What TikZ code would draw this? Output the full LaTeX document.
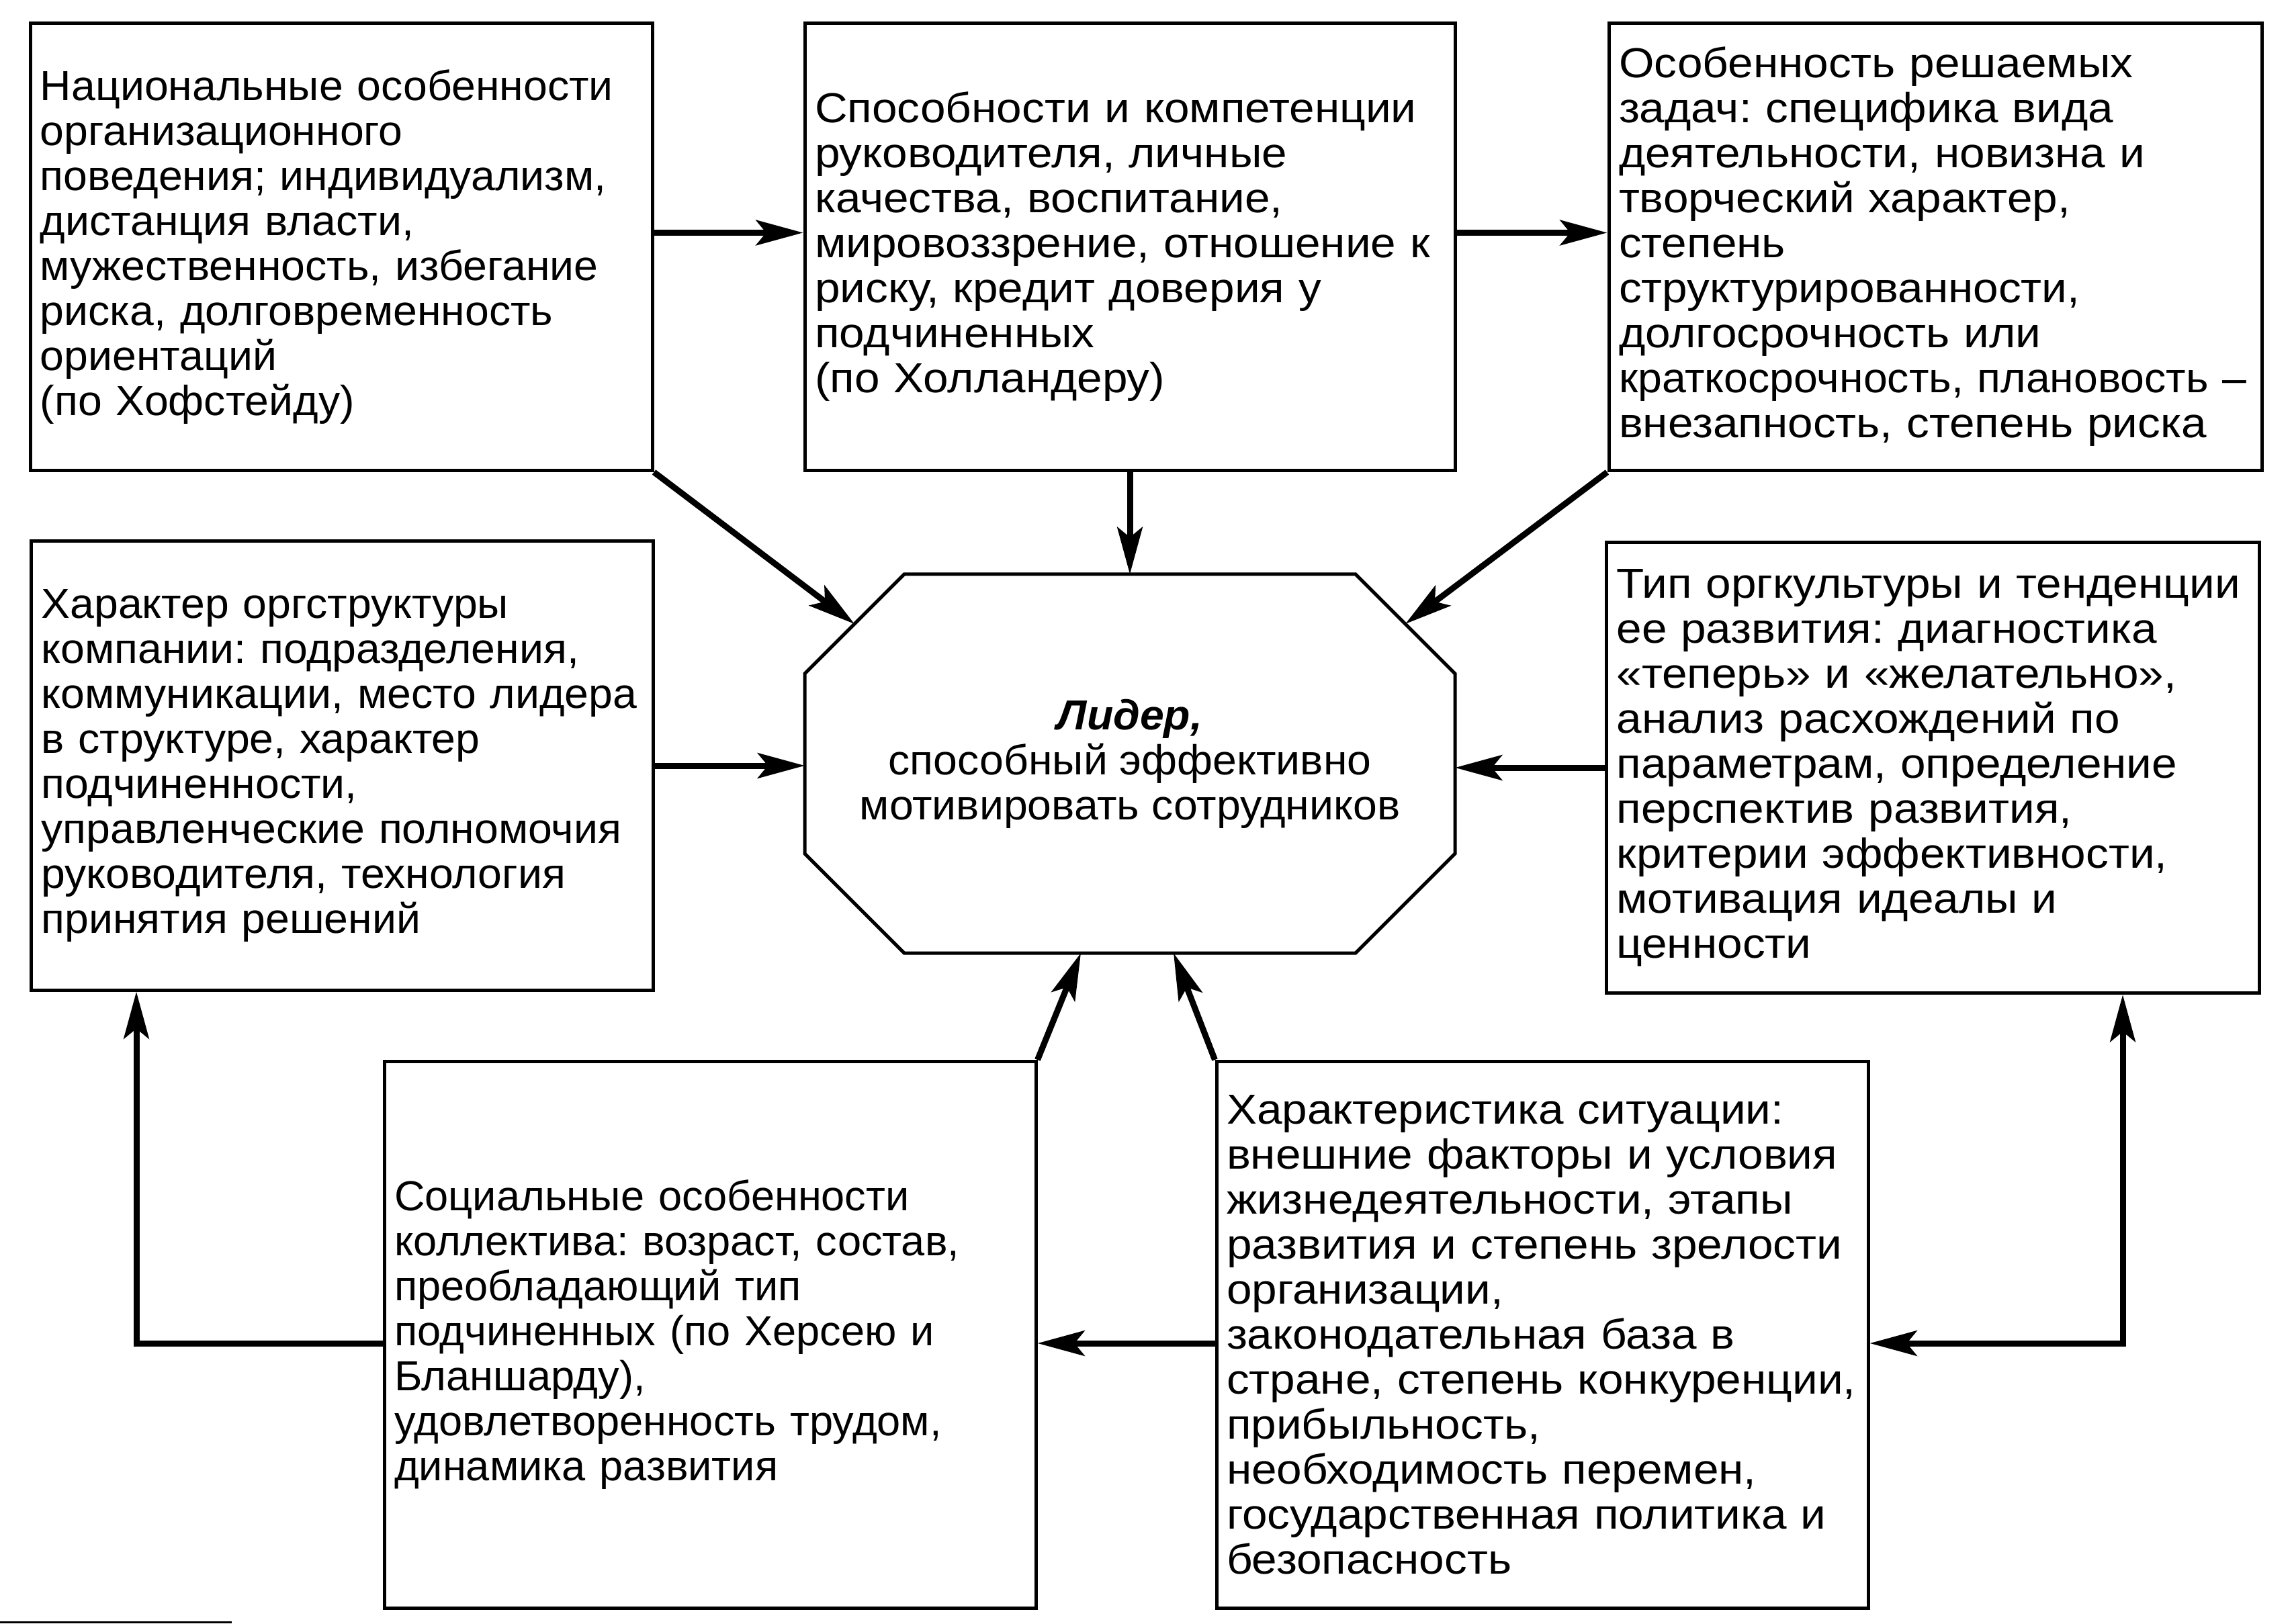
\documentclass[tikz,border=0pt]{standalone}
\usepackage{fontspec}
\setmainfont{Liberation Sans}
\newfontfamily\widefont{Liberation Sans}[FakeStretch=1.08]
\newfontfamily\midfont{Liberation Sans}[FakeStretch=1.03]
\newfontfamily\slimfont{Liberation Sans}[FakeStretch=1.01]
\usetikzlibrary{arrows.meta, positioning}

\begin{document}
\frenchspacing
\begin{tikzpicture}[
            node distance=1cm and 1cm,
            every node/.style={font=\fontsize{12.5pt}{13.4pt}\selectfont},
            box/.style={
                    draw,
                    line width=1pt,
                    inner xsep=3pt,
                    inner ysep=0pt,
                    minimum height=133.2pt,
                    align=left
                },
            leftbox/.style={box, text width=179.2pt, font=\fontsize{12.5pt}{13.4pt}\midfont},
            midbox/.style={box, text width=187.6pt, font=\fontsize{12.5pt}{13.4pt}\widefont},
            rightbox/.style={box, text width=188.4pt, font=\fontsize{12.5pt}{13.4pt}\widefont},
            lowbox/.style={box, text width=188pt, minimum height=162.8pt},
            leader/.style={
                    minimum width=193.6pt,
                    minimum height=112.8pt,
                    outer sep=0pt,
                    align=center,
                    font=\fontsize{12.5pt}{13.4pt}\midfont
                },
            octline/.style={draw, line width=1pt, line join=miter},
            arrow/.style={
                    -{Stealth[length=14pt,width=7.5pt,inset=3pt]},
                    line width=1.8pt
                },
            twoarrow/.style={
                    {Stealth[length=14pt,width=7.5pt,inset=3pt]}-{Stealth[length=14pt,width=7.5pt,inset=3pt]},
                    line width=1.8pt,
                    line join=miter
                }
        ]

        \useasboundingbox (0,0) rectangle (682.4pt,-483.6pt);

        \node[leader] (lead) at (336.4pt,-227.4pt)
        {
            \textbf{\textit{Лидер,}}\\
            способный эффективно\\
            мотивировать сотрудников
        };
        \draw[octline] ([xshift=29.6pt]lead.north west) -- ([xshift=-29.6pt]lead.north east)
            -- ([yshift=-29.6pt]lead.north east) -- ([yshift=29.6pt]lead.south east)
            -- ([xshift=-29.6pt]lead.south east) -- ([xshift=29.6pt]lead.south west)
            -- ([yshift=29.6pt]lead.south west) -- ([yshift=-29.6pt]lead.north west) -- cycle;

        \node[midbox, above=30.4pt of lead] (abil)
        {
            Способности и компетенции\\
            руководителя, личные\\
            качества, воспитание,\\
            мировоззрение, отношение к\\
            риску, кредит доверия у\\
            подчиненных\\
            (по Холландеру)
        };

        \node[leftbox, left=44.4pt of abil] (nation)
        {
            Национальные особенности\\
            организационного\\
            поведения; индивидуализм,\\
            дистанция власти,\\
            мужественность, избегание\\
            риска, долговременность\\
            ориентаций\\
            (по Хофстейду)
        };

        \node[rightbox, right=44.8pt of abil] (task)
        {
            Особенность решаемых\\
            задач: специфика вида\\
            деятельности, новизна и\\
            творческий характер,\\
            степень\\
            структурированности,\\
            долгосрочность или\\
            {\midfont краткосрочность,~плановость~–}\\
            внезапность, степень риска
        };

        \node[leftbox, minimum height=133.6pt, left=44.6pt of lead, yshift=-0.6pt] (struct)
        {
            Характер оргструктуры\\
            компании: подразделения,\\
            коммуникации, место лидера\\
            в структуре, характер\\
            подчиненности,\\
            управленческие полномочия\\
            руководителя, технология\\
            принятия решений
        };

        \node[rightbox, minimum height=134.2pt, right=44.6pt of lead, yshift=-1.2pt] (culture)
        {
            Тип оргкультуры и тенденции\\
            ее развития: диагностика\\
            «теперь» и «желательно»,\\
            анализ расхождений по\\
            параметрам, определение\\
            перспектив развития,\\
            критерии эффективности,\\
            мотивация идеалы и\\
            ценности
        };

        \node[lowbox, font=\fontsize{12.5pt}{13.4pt}\slimfont, below=31.8pt of lead, xshift=-125pt] (social)
        {
            Социальные особенности\\
            коллектива: возраст, состав,\\
            преобладающий тип\\
            подчиненных (по Херсею и\\
            Бланшарду),\\
            удовлетворенность трудом,\\
            динамика развития
        };

        \node[lowbox, font=\fontsize{12.5pt}{13.4pt}\widefont, below=31.8pt of lead, xshift=122.8pt] (situation)
        {
            Характеристика ситуации:\\
            внешние факторы и условия\\
            жизнедеятельности, этапы\\
            развития и степень зрелости\\
            организации,\\
            законодательная база в\\
            стране, степень конкуренции,\\
            прибыльность,\\
            необходимость перемен,\\
            государственная политика и\\
            безопасность
        };

        \draw[arrow] ([yshift=4.2pt]nation.east) -- ([yshift=4.2pt]abil.west);
        \draw[arrow] ([yshift=4.2pt]abil.east) -- ([yshift=4.2pt]task.west);

        \draw[arrow] (abil.south) -- (lead.north);
        \draw[arrow] (nation.south east) -- ([shift={(14.8pt,-14.8pt)}]lead.north west);
        \draw[arrow] (task.south west) -- ([shift={(-14.8pt,-14.8pt)}]lead.north east);

        \draw[arrow] (struct.east) -- (struct.east -| lead.west);
        \draw[arrow] (culture.west) -- (culture.west -| lead.east);

        \draw[arrow] (social.north east) -- ([xshift=-14.6pt]lead.south);
        \draw[arrow] (situation.north west) -- ([xshift=13pt]lead.south);

        \draw[arrow] ([yshift=-2.5pt]situation.west) -- ([yshift=-2.5pt]social.east);
        \draw[arrow, line join=miter] ([yshift=-2.5pt]social.west) -| ([xshift=31.8pt]struct.south west);
        \draw[twoarrow] ([yshift=-2.5pt]situation.east) -| ([xshift=-41.2pt]culture.south east);

        \draw[line width=0.6pt] (0pt,-483pt) -- (69pt,-483pt);

    \end{tikzpicture}
\end{document}
